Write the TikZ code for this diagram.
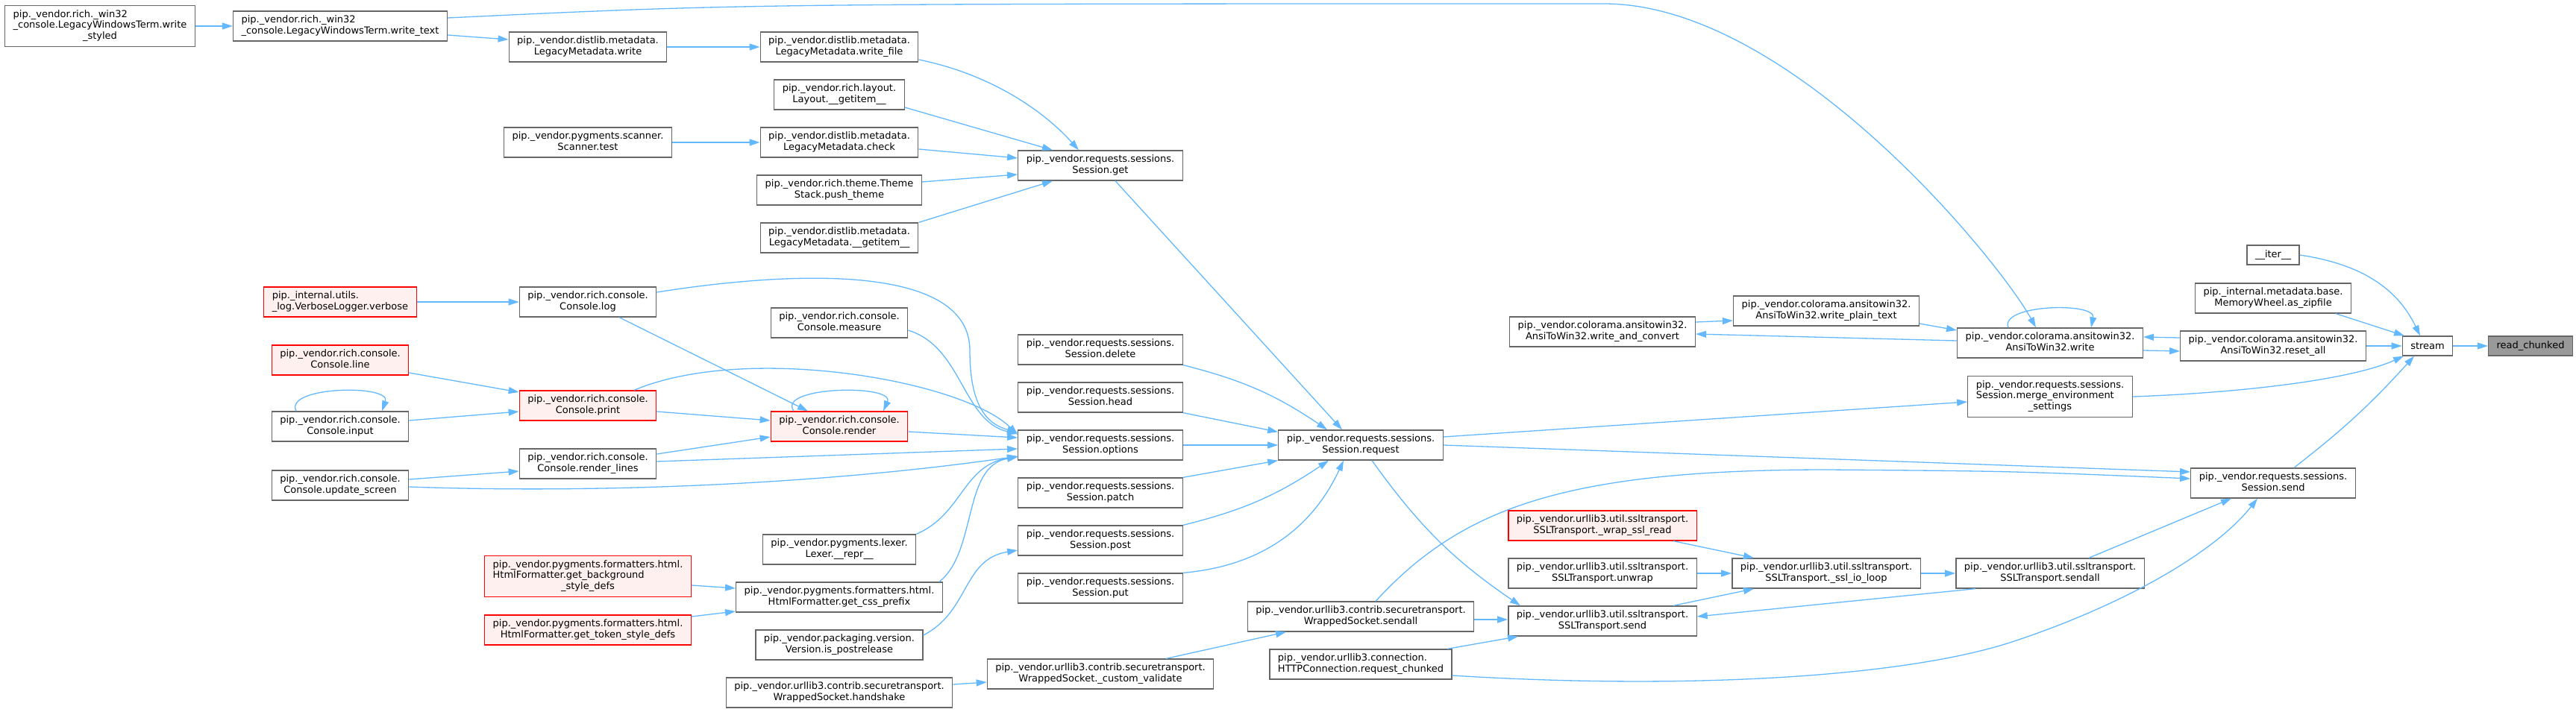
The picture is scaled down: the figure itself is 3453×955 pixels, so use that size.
\documentclass[tikz,border=0pt]{standalone}
\usepackage{fontspec}
\setmainfont{DejaVu Sans}
\usepackage{xcolor}
\usepackage{tikz}
\usetikzlibrary{arrows.meta}

\definecolor{edgeblue}{HTML}{63B8FF}
\definecolor{boxgray}{HTML}{666666}
\definecolor{boxred}{HTML}{FF0000}
\definecolor{fillred}{HTML}{FFF0F0}
\definecolor{fillgray}{HTML}{999999}

% upper lines left, last line centred
\newcommand{\fnname}[2]{\begin{tabular}{@{}l@{}}#1\\\multicolumn{1}{@{}c@{}}{#2}\end{tabular}}

\begin{document}
\begin{tikzpicture}[
    x=1pt, y=-1pt,
    fn/.style={draw=boxgray, line width=1.3pt, fill=white, inner xsep=11pt, inner ysep=1pt,
               minimum height=40pt, font=\fontsize{13}{14.7}\selectfont},
    fnthree/.style={fn, minimum height=55pt},
    fnone/.style={fn, minimum height=26pt},
    fnred/.style={fn, draw=boxred, fill=fillred},
    fnredthree/.style={fnred, minimum height=55pt},
    fntarget/.style={fnone, fill=fillgray},
    call/.style={draw=edgeblue, line width=1.3pt, -{Triangle[length=14pt, width=9pt]}},
]
\useasboundingbox (0,0) rectangle (3453,955);

%% ── Rich / distlib column ───────────────────────────────────────────────
\node[fnthree] (wstyled) at (134,35) {\fnname{pip.\_vendor.rich.\_win32\\\_console.LegacyWindowsTerm.write}{\_styled}};
\node[fn] (wtext) at (456,35) {\fnname{pip.\_vendor.rich.\_win32}{\_console.LegacyWindowsTerm.write\_text}};
\node[fn] (lmwrite) at (788,63) {\fnname{pip.\_vendor.distlib.metadata.}{LegacyMetadata.write}};
\node[fn] (lmwfile) at (1125,63) {\fnname{pip.\_vendor.distlib.metadata.}{LegacyMetadata.write\_file}};
\node[fn] (laygetitem) at (1125,127) {\fnname{pip.\_vendor.rich.layout.}{Layout.\_\_getitem\_\_}};
\node[fn] (sctest) at (788,191) {\fnname{pip.\_vendor.pygments.scanner.}{Scanner.test}};
\node[fn] (lmcheck) at (1125,191) {\fnname{pip.\_vendor.distlib.metadata.}{LegacyMetadata.check}};
\node[fn] (pushtheme) at (1125,255) {\fnname{pip.\_vendor.rich.theme.Theme}{Stack.push\_theme}};
\node[fn] (lmgetitem) at (1125,319) {\fnname{pip.\_vendor.distlib.metadata.}{LegacyMetadata.\_\_getitem\_\_}};

%% ── Console ─────────────────────────────────────────────────────────────
\node[fnred] (verbose) at (456,405) {\fnname{pip.\_internal.utils.}{\_log.VerboseLogger.verbose}};
\node[fn] (clog) at (788,405) {\fnname{pip.\_vendor.rich.console.}{Console.log}};
\node[fn] (cmeasure) at (1125,433) {\fnname{pip.\_vendor.rich.console.}{Console.measure}};
\node[fnred] (cline) at (456,483) {\fnname{pip.\_vendor.rich.console.}{Console.line}};
\node[fnred] (cprint) at (788,544) {\fnname{pip.\_vendor.rich.console.}{Console.print}};
\node[fn] (cinput) at (456,572) {\fnname{pip.\_vendor.rich.console.}{Console.input}};
\node[fnred] (crender) at (1125,572) {\fnname{pip.\_vendor.rich.console.}{Console.render}};
\node[fn] (crlines) at (788,622) {\fnname{pip.\_vendor.rich.console.}{Console.render\_lines}};
\node[fn] (cupdate) at (456,651) {\fnname{pip.\_vendor.rich.console.}{Console.update\_screen}};

%% ── Pygments / packaging / urllib3 ──────────────────────────────────────
\node[fn] (lexrepr) at (1125,737) {\fnname{pip.\_vendor.pygments.lexer.}{Lexer.\_\_repr\_\_}};
\node[fnredthree] (getbg) at (788,773) {\fnname{pip.\_vendor.pygments.formatters.html.\\HtmlFormatter.get\_background}{\_style\_defs}};
\node[fn] (cssprefix) at (1125,801) {\fnname{pip.\_vendor.pygments.formatters.html.}{HtmlFormatter.get\_css\_prefix}};
\node[fnred] (gettoken) at (788,845) {\fnname{pip.\_vendor.pygments.formatters.html.}{HtmlFormatter.get\_token\_style\_defs}};
\node[fn] (postrel) at (1125,865) {\fnname{pip.\_vendor.packaging.version.}{Version.is\_postrelease}};
\node[fn] (handshake) at (1125,929) {\fnname{pip.\_vendor.urllib3.contrib.securetransport.}{WrappedSocket.handshake}};

%% ── Session ─────────────────────────────────────────────────────────────
\node[fn] (sget) at (1475,222) {\fnname{pip.\_vendor.requests.sessions.}{Session.get}};
\node[fn] (sdelete) at (1475,469) {\fnname{pip.\_vendor.requests.sessions.}{Session.delete}};
\node[fn] (shead) at (1475,533) {\fnname{pip.\_vendor.requests.sessions.}{Session.head}};
\node[fn] (soptions) at (1475,597) {\fnname{pip.\_vendor.requests.sessions.}{Session.options}};
\node[fn] (spatch) at (1475,661) {\fnname{pip.\_vendor.requests.sessions.}{Session.patch}};
\node[fn] (spost) at (1475,725) {\fnname{pip.\_vendor.requests.sessions.}{Session.post}};
\node[fn] (sput) at (1475,789) {\fnname{pip.\_vendor.requests.sessions.}{Session.put}};
\node[fn] (customval) at (1475,904) {\fnname{pip.\_vendor.urllib3.contrib.securetransport.}{WrappedSocket.\_custom\_validate}};
\node[fn] (srequest) at (1824,597) {\fnname{pip.\_vendor.requests.sessions.}{Session.request}};
\node[fn] (wsendall) at (1824,827) {\fnname{pip.\_vendor.urllib3.contrib.securetransport.}{WrappedSocket.sendall}};
\node[fn] (reqchunked) at (1824,891) {\fnname{pip.\_vendor.urllib3.connection.}{HTTPConnection.request\_chunked}};

%% ── Colorama / ssltransport ─────────────────────────────────────────────
\node[fn] (atwconvert) at (2148,445) {\fnname{pip.\_vendor.colorama.ansitowin32.}{AnsiToWin32.write\_and\_convert}};
\node[fn] (atwplain) at (2448,417) {\fnname{pip.\_vendor.colorama.ansitowin32.}{AnsiToWin32.write\_plain\_text}};
\node[fn] (atwwrite) at (2748,460) {\fnname{pip.\_vendor.colorama.ansitowin32.}{AnsiToWin32.write}};
\node[fn] (atwreset) at (3047,464) {\fnname{pip.\_vendor.colorama.ansitowin32.}{AnsiToWin32.reset\_all}};
\node[fnthree] (mergeenv) at (2748,532) {\fnname{pip.\_vendor.requests.sessions.\\Session.merge\_environment}{\_settings}};
\node[fnred] (wrapread) at (2148,705) {\fnname{pip.\_vendor.urllib3.util.ssltransport.}{SSLTransport.\_wrap\_ssl\_read}};
\node[fn] (unwrap) at (2148,769) {\fnname{pip.\_vendor.urllib3.util.ssltransport.}{SSLTransport.unwrap}};
\node[fn] (sslsend) at (2148,833) {\fnname{pip.\_vendor.urllib3.util.ssltransport.}{SSLTransport.send}};
\node[fn] (ioloop) at (2448,769) {\fnname{pip.\_vendor.urllib3.util.ssltransport.}{SSLTransport.\_ssl\_io\_loop}};
\node[fn] (sslsendall) at (2748,769) {\fnname{pip.\_vendor.urllib3.util.ssltransport.}{SSLTransport.sendall}};
\node[fn] (ssend) at (3047,648) {\fnname{pip.\_vendor.requests.sessions.}{Session.send}};

%% ── Stream ──────────────────────────────────────────────────────────────
\node[fnone] (iter) at (3047,342) {\_\_iter\_\_};
\node[fn] (zipfile) at (3047,400) {\fnname{pip.\_internal.metadata.base.}{MemoryWheel.as\_zipfile}};
\node[fnone] (stream) at (3254,464) {stream};
\node[fntarget] (readchunked) at (3392,464) {read\_chunked};

%% ── Calls into Session.get ──────────────────────────────────────────────
\draw[call] (wstyled) -- (wtext);
\draw[call] ([yshift=11pt]wtext.east) .. controls (1000,5) .. (2150,5)
    .. controls (2400,5) and (2680,350) .. ([xshift=-19pt]atwwrite.north);
\draw[call] ([yshift=-12pt]wtext.east) -- ([yshift=10pt]lmwrite.west);
\draw[call] (lmwrite) -- (lmwfile);
\draw[call] ([yshift=-17pt]lmwfile.east) .. controls (1330,100) and (1400,150) .. ([xshift=-29pt]sget.north);
\draw[call] ([yshift=-17pt]laygetitem.east) -- ([xshift=-64pt]sget.north);
\draw[call] (sctest) -- (lmcheck);
\draw[call] ([yshift=-9pt]lmcheck.east) -- ([yshift=10pt]sget.west);
\draw[call] ([yshift=11pt]pushtheme.east) -- ([yshift=-12pt]sget.west);
\draw[call] (lmgetitem.north east) -- ([xshift=-64pt]sget.south);
\draw[call] ([xshift=20pt]sget.south) -- ([xshift=-25pt]srequest.north);

%% ── Console calls ───────────────────────────────────────────────────────
\draw[call] (verbose) -- (clog);
\draw[call] ([yshift=13pt]clog.east) .. controls (1050,365) and (1300,350) .. (1300,470)
    .. controls (1300,540) and (1320,568) .. ([yshift=17pt]soptions.west);
\draw[call] ([xshift=42pt]clog.south) -- ([xshift=-42pt]crender.north);
\draw[call] ([yshift=-10pt]cmeasure.east) .. controls (1290,465) and (1290,565) .. ([yshift=15pt]soptions.west);
\draw[call] ([yshift=-17pt]cline.east) -- ([yshift=18pt]cprint.west);
\draw[call] ([yshift=8pt]cinput.east) -- ([yshift=-8pt]cprint.west);
\draw[call] ([xshift=-59pt]cinput.north) .. controls (380,518) and (525,515) .. ([xshift=56pt]cinput.north);
\draw[call] ([yshift=-8pt]cprint.east) -- ([yshift=8pt]crender.west);
\draw[call] ([xshift=62pt]cprint.north) .. controls (1000,460) and (1290,510) .. ([yshift=14pt]soptions.west);
\draw[call] ([xshift=-61pt]crender.north) .. controls (1040,518) and (1200,515) .. ([xshift=59pt]crender.north);
\draw[call] ([yshift=-7pt]crender.east) -- ([yshift=10pt]soptions.west);
\draw[call] ([yshift=13pt]crlines.east) -- ([yshift=-14pt]crender.west);
\draw[call] ([yshift=3pt]crlines.east) -- ([yshift=-5pt]soptions.west);
\draw[call] ([yshift=8pt]cupdate.east) -- ([yshift=-10pt]crlines.west);
\draw[call] ([yshift=-2pt]cupdate.east) .. controls (800,662) and (1100,650) .. ([yshift=-15pt]soptions.west);

%% ── Pygments, packaging, handshake ──────────────────────────────────────
\draw[call] (lexrepr.north east) .. controls (1290,690) and (1290,625) .. ([yshift=-15pt]soptions.west);
\draw[call] ([yshift=-12pt]getbg.east) -- ([yshift=12pt]cssprefix.west);
\draw[call] ([yshift=18pt]gettoken.east) -- ([yshift=-19pt]cssprefix.west);
\draw[call] ([xshift=134pt]cssprefix.north) .. controls (1310,740) and (1290,625) .. ([yshift=-16pt]soptions.west);
\draw[call] ([yshift=13pt]postrel.east) .. controls (1300,820) and (1290,750) .. ([yshift=-13pt]spost.west);
\draw[call] ([yshift=11pt]handshake.east) -- ([yshift=-11pt]customval.west);
\draw[call] ([xshift=88pt]customval.north) -- ([xshift=-100pt]wsendall.south);

%% ── Into Session.request ────────────────────────────────────────────────
\draw[call] (sdelete.south east) to[bend left=10] ([xshift=-45pt]srequest.north);
\draw[call] (shead.south east) -- ([yshift=-3pt]srequest.north west);
\draw[call] (soptions) -- (srequest);
\draw[call] (spatch.north east) -- (srequest.south west);
\draw[call] (spost.north east) to[bend right=10] ([xshift=-43pt]srequest.south);
\draw[call] (sput.north east) to[bend right=30] ([xshift=-23pt]srequest.south);

%% ── Out of Session.request ──────────────────────────────────────────────
\draw[call] ([yshift=11pt]srequest.east) -- ([yshift=-7pt]mergeenv.west);
\draw[call] (srequest.east) -- ([yshift=15pt]ssend.west);
\draw[call] ([xshift=15pt]srequest.south) to[bend right=10] ([xshift=-110pt]sslsend.north);
\draw[call] ([xshift=20pt]wsendall.north) .. controls (1960,680) and (2100,630) .. (2450,630)
    .. controls (2700,632) .. ([yshift=6pt]ssend.west);
\draw[call] ([yshift=-4pt]wsendall.east) -- ([yshift=2pt]sslsend.west);
\draw[call] ([xshift=116pt]reqchunked.north) -- ([xshift=-113pt]sslsend.south);
\draw[call] ([yshift=-15pt]reqchunked.east) .. controls (2250,925) and (2550,910) .. (2700,860)
    .. controls (2850,810) and (2970,740) .. ([xshift=-21pt]ssend.south);

%% ── ssltransport ────────────────────────────────────────────────────────
\draw[call] ([xshift=95pt]wrapread.south) -- ([xshift=-97pt]ioloop.north);
\draw[call] (unwrap) -- (ioloop);
\draw[call] ([xshift=95pt]sslsend.north) -- ([xshift=-97pt]ioloop.south);
\draw[call] (ioloop) -- (sslsendall);
\draw[call] ([xshift=-100pt]sslsendall.south) -- ([yshift=6pt]sslsend.east);
\draw[call] ([xshift=52pt]sslsendall.north) -- ([xshift=-56pt]ssend.south);

%% ── colorama ────────────────────────────────────────────────────────────
\draw[call] ([yshift=13pt]atwconvert.east) -- ([yshift=-13pt]atwplain.west);
\draw[call] ([yshift=-17pt]atwplain.east) -- ([yshift=17pt]atwwrite.west);
\draw[call] ([yshift=3pt]atwwrite.west) -- ([yshift=-3pt]atwconvert.east);
\draw[call] ([xshift=-56pt]atwwrite.north) .. controls (2680,408) and (2810,405) .. ([xshift=55pt]atwwrite.north);
\draw[call] ([yshift=11pt]atwreset.west) -- ([yshift=8pt]atwwrite.east);
\draw[call] ([yshift=-10pt]atwwrite.east) -- ([yshift=-7pt]atwreset.west);

%% ── stream ──────────────────────────────────────────────────────────────
\draw[call] (atwreset) -- (stream);
\draw[call] (iter.east) .. controls (3170,355) and (3215,390) .. ([xshift=-10pt]stream.north);
\draw[call] ([xshift=84pt]zipfile.south) -- ([xshift=-31pt]stream.north);
\draw[call] (mergeenv.east) .. controls (3000,527) and (3150,510) .. ([xshift=-32pt]stream.south);
\draw[call] ([xshift=28pt]ssend.north) to[bend right=5] ([xshift=-18pt]stream.south);
\draw[call] (stream) -- (readchunked);

\end{tikzpicture}
\end{document}
